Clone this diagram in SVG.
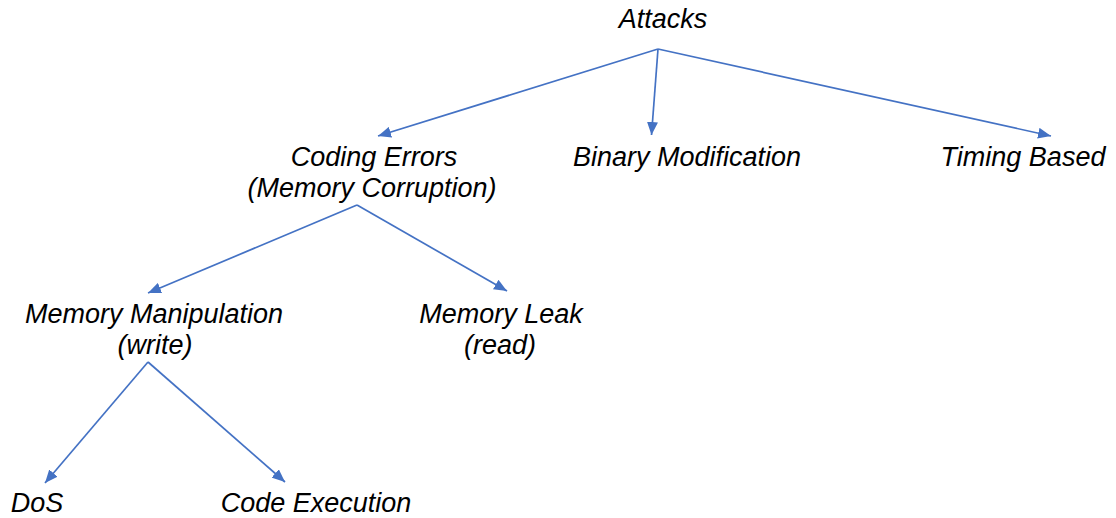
<svg xmlns="http://www.w3.org/2000/svg" width="1116" height="518" viewBox="0 0 1116 518">
<defs>
<style>
.t{font-family:"Liberation Sans",Arial,sans-serif;font-style:italic;font-size:27px;fill:#000;text-anchor:middle}
.c line{stroke:#4472C4;stroke-width:1.7;fill:none}
</style>
<marker id="ah" viewBox="0 0 13 11" refX="13" refY="5.5" markerWidth="13" markerHeight="11" markerUnits="userSpaceOnUse" orient="auto">
<path d="M0,0 L13,5.5 L0,11 Z" fill="#4472C4"/>
</marker>
</defs>
<rect width="1116" height="518" fill="#fff"/>
<g id="attacks"><text class="t" x="663" y="28">Attacks</text></g>
<g id="coding"><text class="t" x="374" y="166">Coding Errors</text><text class="t" x="372" y="197">(Memory Corruption)</text></g>
<g id="binary"><text class="t" x="687" y="166">Binary Modification</text></g>
<g id="timing"><text class="t" x="1023" y="166">Timing Based</text></g>
<g id="manip"><text class="t" x="154" y="323">Memory Manipulation</text><text class="t" x="155" y="354">(write)</text></g>
<g id="leak"><text class="t" x="501" y="323">Memory Leak</text><text class="t" x="500" y="354">(read)</text></g>
<g id="dos"><text class="t" x="37" y="512">DoS</text></g>
<g id="codeexec"><text class="t" x="316" y="512">Code Execution</text></g>
<g id="connectors" class="c">
<line x1="658" y1="49" x2="378" y2="136" marker-end="url(#ah)"/>
<line x1="658" y1="49" x2="651.5" y2="135" marker-end="url(#ah)"/>
<line x1="658" y1="49" x2="1051" y2="136" marker-end="url(#ah)"/>
<line x1="357" y1="205" x2="148" y2="293" marker-end="url(#ah)"/>
<line x1="357" y1="205" x2="507" y2="291" marker-end="url(#ah)"/>
<line x1="148" y1="362" x2="45" y2="483" marker-end="url(#ah)"/>
<line x1="148" y1="362" x2="285" y2="482" marker-end="url(#ah)"/>
</g>
</svg>
